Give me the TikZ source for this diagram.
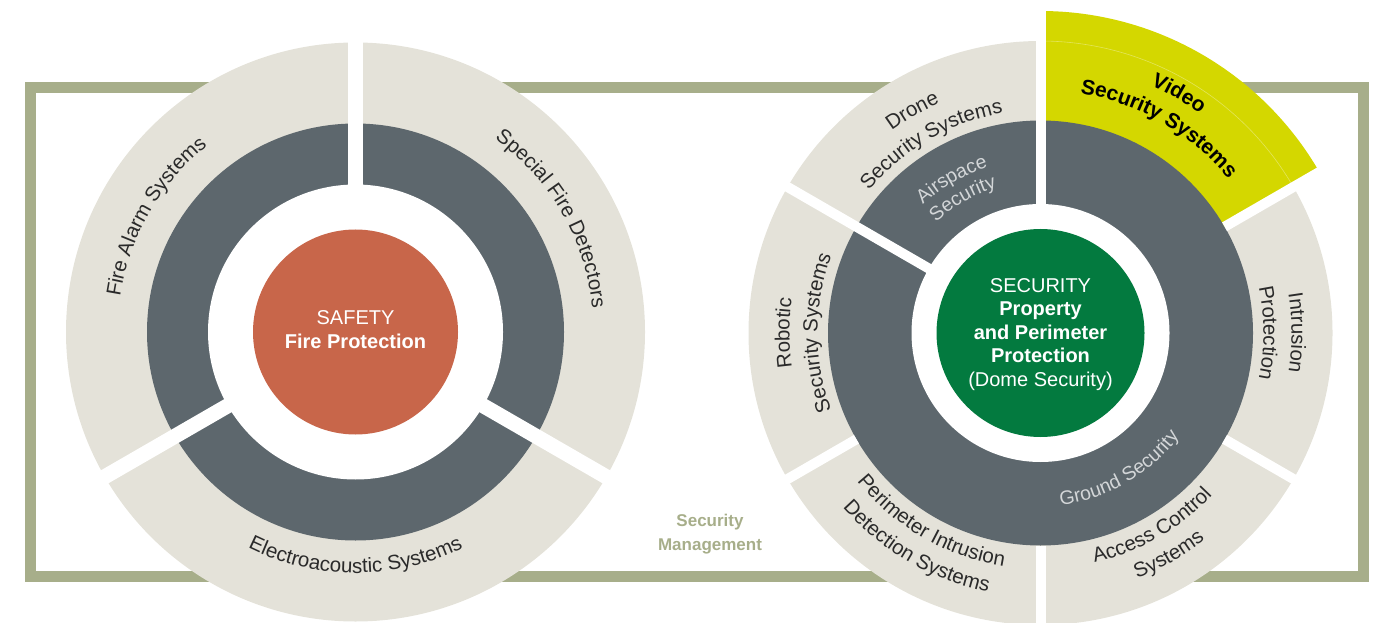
\documentclass[tikz,border=0pt]{standalone}
\usepackage{fontspec}
\setmainfont{Liberation Sans}
\usetikzlibrary{decorations.text}
\definecolor{ringbeige}{HTML}{E4E2D9}
\definecolor{ringgrey}{HTML}{5D676D}
\definecolor{safetyred}{HTML}{C8664A}
\definecolor{securegreen}{HTML}{037A3F}
\definecolor{videoyellow}{HTML}{D4D700}
\definecolor{frameolive}{HTML}{A7AE8A}
\definecolor{labelink}{HTML}{2A2A2A}
\definecolor{innerink}{HTML}{D3D6D8}
\newcommand\ringfont{\fontsize{20.5}{24}\selectfont}
\newcommand\innerfont{\fontsize{19.5}{22}\selectfont}
\newcommand\videofont{\fontsize{21}{24}\selectfont\bfseries}

\begin{document}
\begin{tikzpicture}[x=1pt, y=1pt,
  gap/.style={draw=white, line width=15pt},
  thingap/.style={draw=white, line width=10pt},
  ringtext/.style={decorate, decoration={text along path, text align=center, text color=labelink}},
  videotext/.style={decorate, decoration={text along path, text align=center, text color=black}},
  innertext/.style={decorate, decoration={text along path, text align=center, text color=innerink}},
  hubtext/.style={text=white, align=center, font=\fontsize{20}{23.5}\selectfont}]
\useasboundingbox (0,0) rectangle (1383,622);
\draw[frameolive, line width=11pt] (30.5,45.5) rectangle (1363.5,534.5);
\node[font=\bfseries\fontsize{17}{24}\selectfont, text=frameolive, align=center] (mgmt) at (710,88) {Security\\Management};
\begin{scope}[shift={(355.5,290)}]
\fill[ringbeige] (0,0) circle (289.5);
\fill[ringgrey] (0,0) circle (208.5);
\fill[white] (0,0) circle (147.5);
\draw[gap] (90:140) -- (90:296);
\draw[gap] (210:140) -- (210:296);
\draw[gap] (330:140) -- (330:296);
\fill[safetyred] (0,0) circle (102.5);
\node[hubtext] (safety) at (0,2.5) {SAFETY\\\textbf{Fire Protection}};
\path[ringtext, decoration={text={|\ringfont|Fire Alarm Systems}}] (210:238) arc[start angle=210, end angle=90, radius=238];
\path[ringtext, decoration={text={|\ringfont|Special Fire Detectors}}] (90:238) arc[start angle=90, end angle=-30, radius=238];
\path[ringtext, decoration={text={|\ringfont|Electroacoustic Systems}}] (210:241) arc[start angle=210, end angle=330, radius=241];
\end{scope}
\begin{scope}[shift={(1040.5,289)}]
\fill[ringbeige] (0,0) circle (292);
\fill[videoyellow] (0,0) -- (30:322) arc[start angle=30, end angle=90, radius=322] -- cycle;
\draw[white, opacity=0.35, line width=0.6pt] (30:292) arc[start angle=30, end angle=90, radius=292];
\fill[ringgrey] (0,0) circle (212.5);
\fill[white] (0,0) circle (129);
\draw[thingap] (90:122) -- (90:330);
\draw[thingap] (150:122) -- (150:300);
\draw[thingap] (30:212.5) -- (30:330);
\draw[thingap] (-30:212.5) -- (-30:300);
\draw[thingap] (-90:212.5) -- (-90:300);
\draw[thingap] (210:212.5) -- (210:300);
\fill[securegreen] (0,0) circle (104);
\node[hubtext] (security) at (0,-1.5) {SECURITY\\\textbf{Property}\\\textbf{and Perimeter}\\\textbf{Protection}\\(Dome Security)};
\path[ringtext, decoration={text={|\ringfont|Drone}}] (180:251) arc[start angle=180, end angle=60, radius=251];
\path[ringtext, decoration={text={|\ringfont|Security Systems}}] (180:223) arc[start angle=180, end angle=60, radius=223];
\path[videotext, decoration={text={|\videofont|Video}}] (120:271) arc[start angle=120, end angle=0, radius=271];
\path[videotext, decoration={text={|\videofont|Security Systems}}] (120:243) arc[start angle=120, end angle=0, radius=243];
\path[ringtext, decoration={text={|\ringfont|Intrusion}}] (60:251) arc[start angle=60, end angle=-60, radius=251];
\path[ringtext, decoration={text={|\ringfont|Protection}}] (60:223) arc[start angle=60, end angle=-60, radius=223];
\path[ringtext, decoration={text={|\ringfont|Access Control}}] (-120:236) arc[start angle=-120, end angle=0, radius=236];
\path[ringtext, decoration={text={|\ringfont|Systems}}] (-120:264) arc[start angle=-120, end angle=0, radius=264];
\path[ringtext, decoration={text={|\ringfont|Perimeter Intrusion}}] (-180:236) arc[start angle=-180, end angle=-60, radius=236];
\path[ringtext, decoration={text={|\ringfont|Detection Systems}}] (-180:264) arc[start angle=-180, end angle=-60, radius=264];
\path[ringtext, decoration={text={|\ringfont|Robotic}}] (240:251) arc[start angle=240, end angle=120, radius=251];
\path[ringtext, decoration={text={|\ringfont|Security Systems}}] (240:223) arc[start angle=240, end angle=120, radius=223];
\path[innertext, decoration={text={|\innerfont|Airspace}}] (180:174) arc[start angle=180, end angle=60, radius=174];
\path[innertext, decoration={text={|\innerfont|Security}}] (180:152) arc[start angle=180, end angle=60, radius=152];
\path[innertext, decoration={text={|\innerfont|Ground Security}}] (-120:173) arc[start angle=-120, end angle=0, radius=173];
\end{scope}
\end{tikzpicture}
\end{document}
